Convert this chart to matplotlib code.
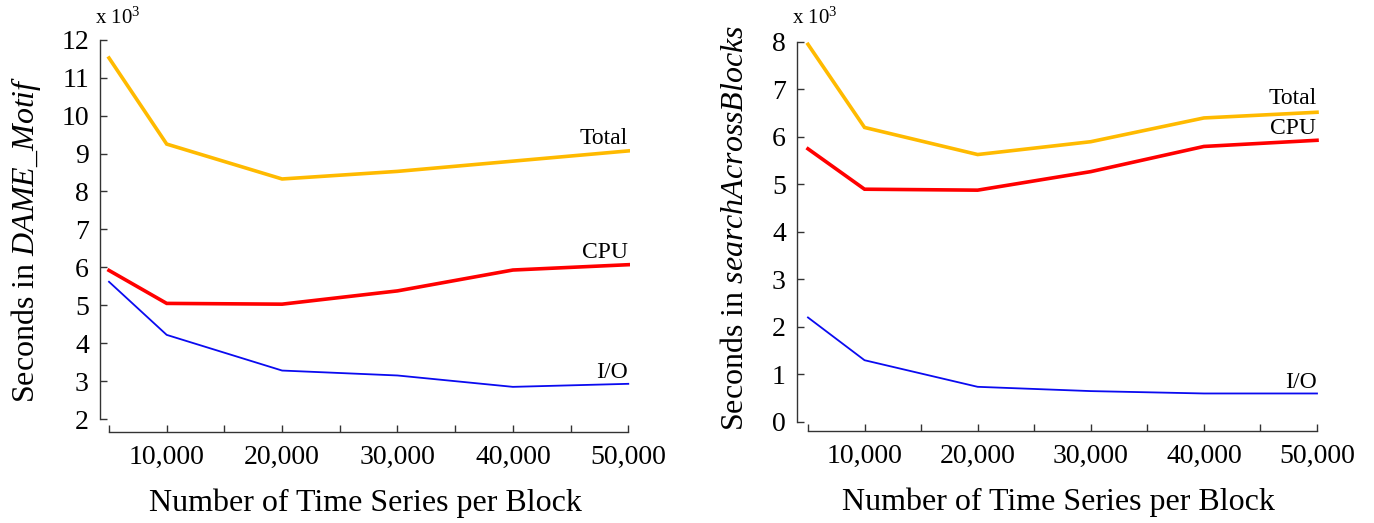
import matplotlib
matplotlib.use('Agg')
import matplotlib.pyplot as plt

# ------------------------------------------------------------------
# --------------------------- Data ---------------------------------
# ------------------------------------------------------------------
block_sizes = [5000, 10000, 20000, 30000, 40000, 50000]

# DAME_Motif (x 10^3 seconds)
dame_total = [11.52, 9.25, 8.33, 8.53, 8.80, 9.07]
dame_cpu = [5.92, 5.05, 5.03, 5.38, 5.93, 6.07]
dame_io = [5.62, 4.22, 3.28, 3.15, 2.85, 2.93]

# searchAcrossBlocks (x 10^3 seconds)
search_total = [7.95, 6.20, 5.63, 5.90, 6.40, 6.52]
search_cpu = [5.75, 4.90, 4.88, 5.27, 5.80, 5.93]
search_io = [2.20, 1.30, 0.74, 0.65, 0.60, 0.60]

x_ticks = [5000, 10000, 15000, 20000, 25000, 30000, 35000, 40000, 45000, 50000]
x_ticklabels = ['', '10,000', '', '20,000', '', '30,000', '', '40,000', '', '50,000']

# ------------------------------------------------------------------
# -------------------------- Styling -------------------------------
# ------------------------------------------------------------------
plt.rcParams['font.family'] = ['Liberation Serif', 'DejaVu Serif']
plt.rcParams['mathtext.fontset'] = 'custom'
plt.rcParams['mathtext.rm'] = 'Liberation Serif'
plt.rcParams['mathtext.it'] = 'Liberation Serif:italic'

c_total = '#FFBA00'
c_cpu = '#FF0000'
c_io = '#0A0AF0'

W, H = 1374, 523
fig = plt.figure(figsize=(W / 100, H / 100), dpi=100)


def px_axes(x0, x1, ytop, ybot):
    return fig.add_axes([x0 / W, 1 - ybot / H, (x1 - x0) / W, (ybot - ytop) / H])


ax1 = px_axes(100, 630, 39, 432)
ax2 = px_axes(797, 1320, 41, 431)

panels = [
    (ax1, dame_total, dame_cpu, dame_io, (2, 12), (1.66, 12.02), (4220, 50150),
     r'Seconds in $\mathit{DAME\_Motif}$',
     {'Total': 9.39, 'CPU': 6.39, 'I/O': 3.24}),
    (ax2, search_total, search_cpu, search_io, (0, 8), (-0.19, 8.02), (4030, 50265),
     r'Seconds in $\mathit{searchAcrossBlocks}$',
     {'Total': 6.82, 'CPU': 6.17, 'I/O': 0.84}),
]

for ax, tot, cpu, io, ybounds, ylim, xlim, ylab, lab_y in panels:
    ax.plot(block_sizes, tot, c=c_total, lw=2.6, solid_joinstyle='miter')
    ax.plot(block_sizes, cpu, c=c_cpu, lw=2.6, solid_joinstyle='miter')
    ax.plot(block_sizes, io, c=c_io, lw=1.3)

    ax.set_xlim(xlim)
    ax.set_ylim(ylim)
    for axis in ['top', 'right']:
        ax.spines[axis].set_visible(False)
    for axis in ['left', 'bottom']:
        ax.spines[axis].set_linewidth(1.0)
        ax.spines[axis].set_color('#333333')
    ax.spines['left'].set_bounds(*ybounds)
    ax.spines['bottom'].set_bounds(5000, 50000)

    ax.set_yticks(range(ybounds[0], ybounds[1] + 1))
    ax.set_xticks(x_ticks)
    ax.set_xticklabels(x_ticklabels)
    ax.tick_params(axis='both', direction='in', length=5, width=1.0, color='#333333')
    ax.tick_params(axis='y', labelsize=20, pad=8)
    ax.tick_params(axis='x', labelsize=20, pad=9)

    ax.set_xlabel('Number of Time Series per Block', fontsize=23, labelpad=14)
    ax.set_ylabel(ylab, fontsize=23)

    for name, yv in lab_y.items():
        ax.text(49950, yv, name, ha='right', va='center', fontsize=17)

ax1.yaxis.set_label_coords(-0.107, 0.49)
ax2.yaxis.set_label_coords(-0.09, 0.52)

fig.text(95 / W, 1 - 18 / H, r'x 10$^3$', fontsize=15, ha='left', va='center')
fig.text(792 / W, 1 - 18 / H, r'x 10$^3$', fontsize=15, ha='left', va='center')

plt.savefig('out.png', dpi=100)
